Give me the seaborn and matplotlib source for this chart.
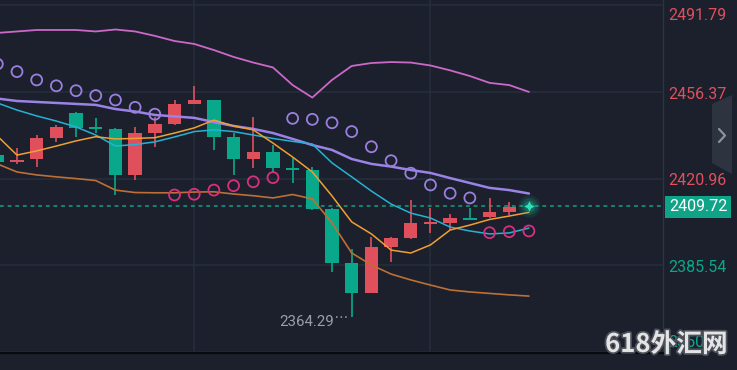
import numpy as np
import pandas as pd
import seaborn as sns
import matplotlib.pyplot as plt
import matplotlib.patheffects as pe
from matplotlib.patches import Polygon
from matplotlib.lines import Line2D

# K线数据, 第0根在左边缘被截断, 最后一根是当前价
opens = [2430.6, 2428.0, 2429.0, 2437.6, 2447.8, 2441.8, 2441.2, 2422.5, 2439.6, 2443.3,
         2451.5, 2453.1, 2438.0, 2429.0, 2431.9, 2425.0, 2424.5, 2408.6, 2386.5, 2374.3,
         2393.0, 2396.7, 2402.6, 2402.9, 2404.6, 2405.3, 2407.4, 2409.8]
highs = [2431.8, 2433.5, 2438.8, 2442.8, 2448.0, 2445.7, 2441.5, 2442.1, 2446.2, 2453.1,
         2458.8, 2453.3, 2439.6, 2446.2, 2434.7, 2429.4, 2425.7, 2408.8, 2392.2, 2397.1,
         2397.1, 2412.2, 2409.0, 2406.5, 2409.0, 2413.1, 2411.4, 2409.9]
lows = [2426.8, 2427.0, 2425.7, 2435.9, 2438.0, 2439.6, 2414.3, 2420.4, 2433.9, 2443.0,
        2451.3, 2432.7, 2422.5, 2425.3, 2423.7, 2419.2, 2408.2, 2382.8, 2364.29, 2374.1,
        2386.9, 2396.3, 2398.8, 2400.0, 2404.1, 2405.1, 2406.1, 2409.6]
closes = [2427.8, 2428.6, 2437.7, 2442.1, 2441.7, 2441.5, 2422.5, 2439.6, 2443.3, 2451.5,
          2453.1, 2438.0, 2429.0, 2431.9, 2425.3, 2424.7, 2408.6, 2386.5, 2374.3, 2393.0,
          2396.7, 2402.9, 2403.1, 2404.9, 2404.3, 2407.4, 2409.4, 2409.72]

# 均线
ma_fast = [2438.4, 2430.6, 2432.3, 2434.3, 2436.4, 2438.1, 2437.2, 2437.4, 2437.7, 2439.6,
           2441.7, 2444.9, 2442.5, 2440.9, 2435.5, 2429.8, 2423.7, 2413.9, 2403.3, 2398.4,
           2391.8, 2390.6, 2393.9, 2400.0, 2402.0, 2404.3, 2405.7, 2407.2]
ma_slow = [2451.9, 2449.0, 2446.6, 2444.5, 2442.1, 2438.8, 2434.3, 2434.9, 2436.0, 2438.0,
           2440.2, 2440.9, 2440.2, 2438.8, 2437.4, 2436.2, 2435.1, 2427.4, 2421.7, 2415.9,
           2410.6, 2406.9, 2404.9, 2401.2, 2399.6, 2398.4, 2398.8, 2400.8]

# 布林带
boll_up = [2480.5, 2481.1, 2481.7, 2481.7, 2481.7, 2481.1, 2481.9, 2481.1, 2479.3, 2477.2,
           2476.0, 2473.5, 2470.7, 2468.4, 2466.4, 2459.2, 2454.1, 2461.3, 2467.0, 2468.2,
           2468.6, 2468.4, 2467.2, 2465.2, 2462.9, 2460.1, 2459.2, 2456.4]
boll_mid = [2453.7, 2452.7, 2452.3, 2451.9, 2451.5, 2451.1, 2449.4, 2448.4, 2447.0, 2446.4,
            2445.8, 2444.1, 2442.5, 2441.3, 2439.6, 2437.2, 2434.7, 2432.7, 2429.0, 2427.0,
            2425.9, 2424.5, 2423.3, 2421.2, 2419.2, 2417.2, 2416.3, 2414.9]
boll_low = [2427.0, 2423.7, 2422.5, 2421.7, 2421.0, 2420.2, 2416.3, 2415.3, 2415.2, 2415.2,
            2415.5, 2415.6, 2414.7, 2414.0, 2413.1, 2414.5, 2412.7, 2402.9, 2390.6, 2385.7,
            2382.0, 2379.6, 2377.5, 2375.5, 2374.7, 2374.1, 2373.5, 2373.0]

# SAR
sar = [2467.8, 2464.7, 2461.3, 2458.9, 2456.9, 2454.9, 2453.1, 2450.1, 2447.3, 2414.3,
       2414.6, 2416.3, 2418.1, 2419.7, 2421.4, 2445.6, 2445.2, 2443.8, 2440.2, 2434.0,
       2428.3, 2423.2, 2418.4, 2415.0, 2413.1, 2398.9, 2399.3, 2399.6]

axis_ticks = [2491.79, 2456.37, 2420.96, 2385.54, 2350.12]
last_price = 2409.72
low_price = 2364.29
grid_bars = [10, 22]

bg = '#1b202c'
gridc = '#272e3b'
red = '#e0505c'
green = '#0aa88b'

sns.set_theme(style='dark', rc={'axes.facecolor': bg, 'figure.facecolor': bg})
plt.rcParams['font.family'] = ['Roboto', 'DejaVu Sans']

df = pd.DataFrame({'open': opens, 'high': highs, 'low': lows, 'close': closes,
                   'ma_fast': ma_fast, 'ma_slow': ma_slow,
                   'boll_up': boll_up, 'boll_mid': boll_mid, 'boll_low': boll_low,
                   'sar': sar})
df['k'] = np.arange(len(df))
df['up'] = df['close'] >= df['open']

fig = plt.figure(figsize=(7.37, 3.70), dpi=100)
ax = fig.add_axes([0, 16.7 / 370, 663 / 737, 353.3 / 370])
ax.set_facecolor(bg)

# 网格
for v in axis_ticks:
    ax.axhline(v, color=gridc, lw=1.2, zorder=0)
for b in grid_bars:
    ax.axvline(b, color=gridc, lw=1.2, zorder=0)
ax.axhline(last_price, color='#14a086', lw=1.1, ls=(0, (2.5, 2.5)), zorder=1)

# K线
cols = np.where(df['up'], red, green)
body = (df['close'] - df['open']).abs()
mid = (df['close'] + df['open']) / 2
h = np.maximum(body, 0.75)
ax.vlines(df['k'][:-1], df['low'][:-1], df['high'][:-1], colors=cols[:-1], lw=1.2, zorder=2)
ax.bar(df['k'][:-1], h[:-1], bottom=(mid - h / 2)[:-1], width=0.68, color=cols[:-1],
       linewidth=0, zorder=3)

# 布林带和均线
sns.lineplot(data=df, x='k', y='boll_up', ax=ax, color='#cc68c8', lw=1.3, zorder=4)
sns.lineplot(data=df, x='k', y='boll_mid', ax=ax, color='#9a82e6', lw=1.8, zorder=4)
sns.lineplot(data=df, x='k', y='boll_low', ax=ax, color='#bd6f35', lw=1.2, zorder=4)
sns.lineplot(data=df, x='k', y='ma_slow', ax=ax, color='#26b2d4', lw=1.1, zorder=4)
sns.lineplot(data=df, x='k', y='ma_fast', ax=ax, color='#f0a033', lw=1.1, zorder=4)

# SAR
above = df['sar'] > df['close']
ax.scatter(df['k'][above], df['sar'][above], s=62, facecolors='none',
           edgecolors='#9b7fe0', linewidths=1.3, zorder=5)
ax.scatter(df['k'][~above], df['sar'][~above], s=62, facecolors='none',
           edgecolors='#d8307e', linewidths=1.3, zorder=5)

# 当前价发光点
kl = df['k'].iloc[-1]
for s, a in [(260, 0.10), (150, 0.16), (70, 0.25)]:
    ax.scatter([kl], [last_price], s=s, color='#18c9a2', alpha=a, lw=0, zorder=6)
ax.scatter([kl], [last_price], s=55, marker=(4, 1, 0), color='#2fe0b8', lw=0, zorder=7)

# 最低价标注
klow = df['k'][df['low'].idxmin()]
ax.plot([klow - 0.78, klow - 0.12], [low_price, low_price], color='#a0a6b0',
        ls=(0, (1, 2)), lw=1.1, zorder=6)
ax.annotate(f'{low_price:.2f}', xy=(klow, low_price), xytext=(-12.5, -3.3),
            textcoords='offset points', ha='right', va='center', color='#9aa0aa',
            fontsize=10.8)

ax.set_xlim(0.137, 33.81)
ax.set_ylim(2349.63, 2493.95)
ax.set_xticks([])
ax.set_yticks([])
ax.set_xlabel('')
ax.set_ylabel('')
for side in ['top', 'left']:
    ax.spines[side].set_visible(False)
ax.spines['bottom'].set_color('#07090d')
ax.spines['bottom'].set_linewidth(1.6)
ax.spines['right'].set_color('#2c3342')
ax.spines['right'].set_linewidth(1.0)

# 右侧价格刻度
for i, v in enumerate(axis_ticks):
    dy = -1.5
    if i == 0:
        dy = -7.5
    elif i == len(axis_ticks) - 1:
        dy = 7.0
    ax.annotate(f'{v:.2f}', xy=(1, v), xycoords=('axes fraction', 'data'),
                xytext=(3.8, dy), textcoords='offset points', ha='left', va='center',
                color=red if v > last_price else green, fontsize=11.5,
                annotation_clip=False, zorder=2)
ax.annotate(f'{last_price:.2f}', xy=(1, last_price), xycoords=('axes fraction', 'data'),
            xytext=(4.2, -0.5), textcoords='offset points', ha='left', va='center',
            color='white', fontsize=11.5, annotation_clip=False,
            bbox=dict(boxstyle='square,pad=0.24', fc='#0fa387', ec='none'))

# 右侧折叠按钮
tab = [(712, 104), (732, 95), (732, 174), (712, 163)]
fig.patches.append(Polygon([(x / 737, (370 - y) / 370) for x, y in tab], closed=True,
                           transform=fig.transFigure, fc='#2d333f', ec='none'))
chev = [(719, 129), (725, 135.5), (719, 142)]
fig.lines.append(Line2D([x / 737 for x, y in chev], [(370 - y) / 370 for x, y in chev],
                        transform=fig.transFigure, color='#8d929b', lw=1.6))

# 水印
fig.text(0.821, 0.069, '618外汇网', fontsize=18.5, weight='bold',
         family=['Noto Sans CJK SC', 'DejaVu Sans'], color='#e4e4e4', va='center',
         ha='left', path_effects=[pe.withStroke(linewidth=2.5, foreground='#4b505a')])

fig.savefig('out.png', dpi=100, facecolor=bg)
